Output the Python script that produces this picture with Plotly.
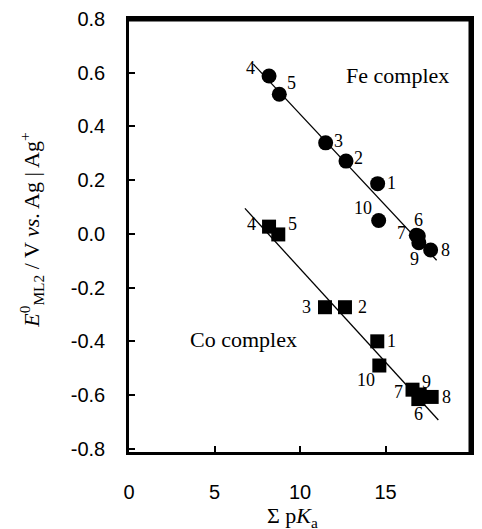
import plotly.graph_objects as go

# ---- data ----
fe_labels = ["1", "2", "3", "4", "5", "6", "7", "8", "9", "10"]
fe_pka = [14.54, 12.69, 11.50, 8.19, 8.79, 16.92, 16.80, 17.64, 16.95, 14.60]
fe_e0 = [0.187, 0.271, 0.339, 0.588, 0.520, -0.008, -0.005, -0.060, -0.033, 0.050]

co_labels = ["1", "2", "3", "4", "5", "6", "7", "8", "9", "10"]
co_pka = [14.52, 12.63, 11.46, 8.19, 8.73, 16.92, 16.58, 17.70, 17.00, 14.64]
co_e0 = [-0.400, -0.273, -0.273, 0.027, -0.002, -0.615, -0.580, -0.607, -0.598, -0.490]

fe_line_x = [7.27, 17.99]
fe_line_y = [0.632, -0.098]
co_line_x = [6.78, 18.09]
co_line_y = [0.095, -0.693]

x_ticks = [0, 5, 10, 15, 20]
y_ticks = [0.8, 0.6, 0.4, 0.2, 0.0, -0.2, -0.4, -0.6, -0.8]
y_tick_text = ["0.8", "0.6", "0.4", "0.2", "0.0", "-0.2", "-0.4", "-0.6", "-0.8"]
x_range = [0, 20]
y_range = [-0.812, 0.8]

# label offsets in pixels (styling)
fe_off = [(14, -1), (12, -3), (13, -2), (-19, -8), (12, -11), (0, -16), (-15, -2), (15, 0), (-4, 16), (-16, -12)]
co_off = [(14, 0), (18, 0), (-18, 0), (-18, -3), (14, -10), (0, 15), (-14, 2), (15, 0), (7, -13), (-13, 14)]

serif = "Liberation Serif, Times New Roman, serif"
sans = "Liberation Sans, Arial, sans-serif"

fig = go.Figure()
# top/right frame edges drawn along the axis range limits
fig.add_trace(go.Scatter(x=[x_range[0], x_range[1], x_range[1]],
                         y=[y_range[1], y_range[1], y_range[0]],
                         mode="lines", xaxis="x2", yaxis="y2",
                         line=dict(color="black", width=5), showlegend=False, hoverinfo="skip"))
fig.add_trace(go.Scatter(x=fe_line_x, y=fe_line_y, mode="lines", xaxis="x2", yaxis="y2",
                         line=dict(color="black", width=1.3), showlegend=False, hoverinfo="skip"))
fig.add_trace(go.Scatter(x=co_line_x, y=co_line_y, mode="lines", xaxis="x2", yaxis="y2",
                         line=dict(color="black", width=1.3), showlegend=False, hoverinfo="skip"))
fig.add_trace(go.Scatter(x=fe_pka, y=fe_e0, mode="markers",
                         marker=dict(symbol="circle", size=15, color="black"), showlegend=False))
fig.add_trace(go.Scatter(x=co_pka, y=co_e0, mode="markers",
                         marker=dict(symbol="square", size=14, color="black"), showlegend=False))

annotations = []
for lab, xv, yv, (dx, dy) in zip(fe_labels, fe_pka, fe_e0, fe_off):
    annotations.append(dict(x=xv, y=yv, text=lab, showarrow=False, xshift=dx, yshift=-dy,
                            font=dict(family=serif, size=18, color="black")))
for lab, xv, yv, (dx, dy) in zip(co_labels, co_pka, co_e0, co_off):
    annotations.append(dict(x=xv, y=yv, text=lab, showarrow=False, xshift=dx, yshift=-dy,
                            font=dict(family=serif, size=18, color="black")))

annotations.append(dict(x=15.71, y=0.591, text="Fe complex", showarrow=False,
                        xanchor="center", yanchor="middle",
                        font=dict(family=serif, size=22, color="black")))
annotations.append(dict(x=6.69, y=-0.393, text="Co complex", showarrow=False,
                        xanchor="center", yanchor="middle",
                        font=dict(family=serif, size=22, color="black")))

# axis titles
annotations.append(dict(xref="paper", yref="paper", x=-0.284, y=0.513, textangle=-90,
                        xanchor="center", yanchor="middle",
                        text="<i>E</i><sup>0</sup><sub>ML2</sub> / V <i>vs</i>. Ag | Ag<sup>+</sup>",
                        showarrow=False, font=dict(family=serif, size=22, color="black")))
annotations.append(dict(xref="paper", yref="paper", x=0.479, y=-0.150,
                        xanchor="center", yanchor="middle",
                        text="Σ p<i>K</i><sub>a</sub>",
                        showarrow=False, font=dict(family=serif, size=22, color="black")))

fig.update_layout(
    width=482, height=529,
    margin=dict(l=129, r=11, t=19, b=77),
    paper_bgcolor="white", plot_bgcolor="white",
    annotations=annotations,
    showlegend=False,
    xaxis=dict(range=x_range, tickvals=x_ticks, ticks="outside", ticklen=20,
               tickcolor="rgba(0,0,0,0)", showline=True, linecolor="black", linewidth=2.5,
               mirror=True, showgrid=False, zeroline=False, automargin=False,
               tickfont=dict(family=sans, size=20, color="black")),
    yaxis=dict(range=y_range, tickvals=y_ticks, ticktext=y_tick_text, ticks="outside",
               ticklen=17, tickcolor="rgba(0,0,0,0)", showline=True, linecolor="black",
               linewidth=2.5, mirror=True, showgrid=False, zeroline=False, automargin=False,
               tickfont=dict(family=sans, size=20, color="black")),
    xaxis2=dict(range=x_range, tickvals=x_ticks, ticks="inside", ticklen=6, tickwidth=2,
                tickcolor="black", showticklabels=False, showline=False, showgrid=False,
                zeroline=False, overlaying="x", anchor="y2", automargin=False),
    yaxis2=dict(range=y_range, tickvals=y_ticks, ticks="inside", ticklen=6, tickwidth=2,
                tickcolor="black", showticklabels=False, showline=False, showgrid=False,
                zeroline=False, overlaying="y", anchor="x2", automargin=False),
)

fig.write_html("out.html")
